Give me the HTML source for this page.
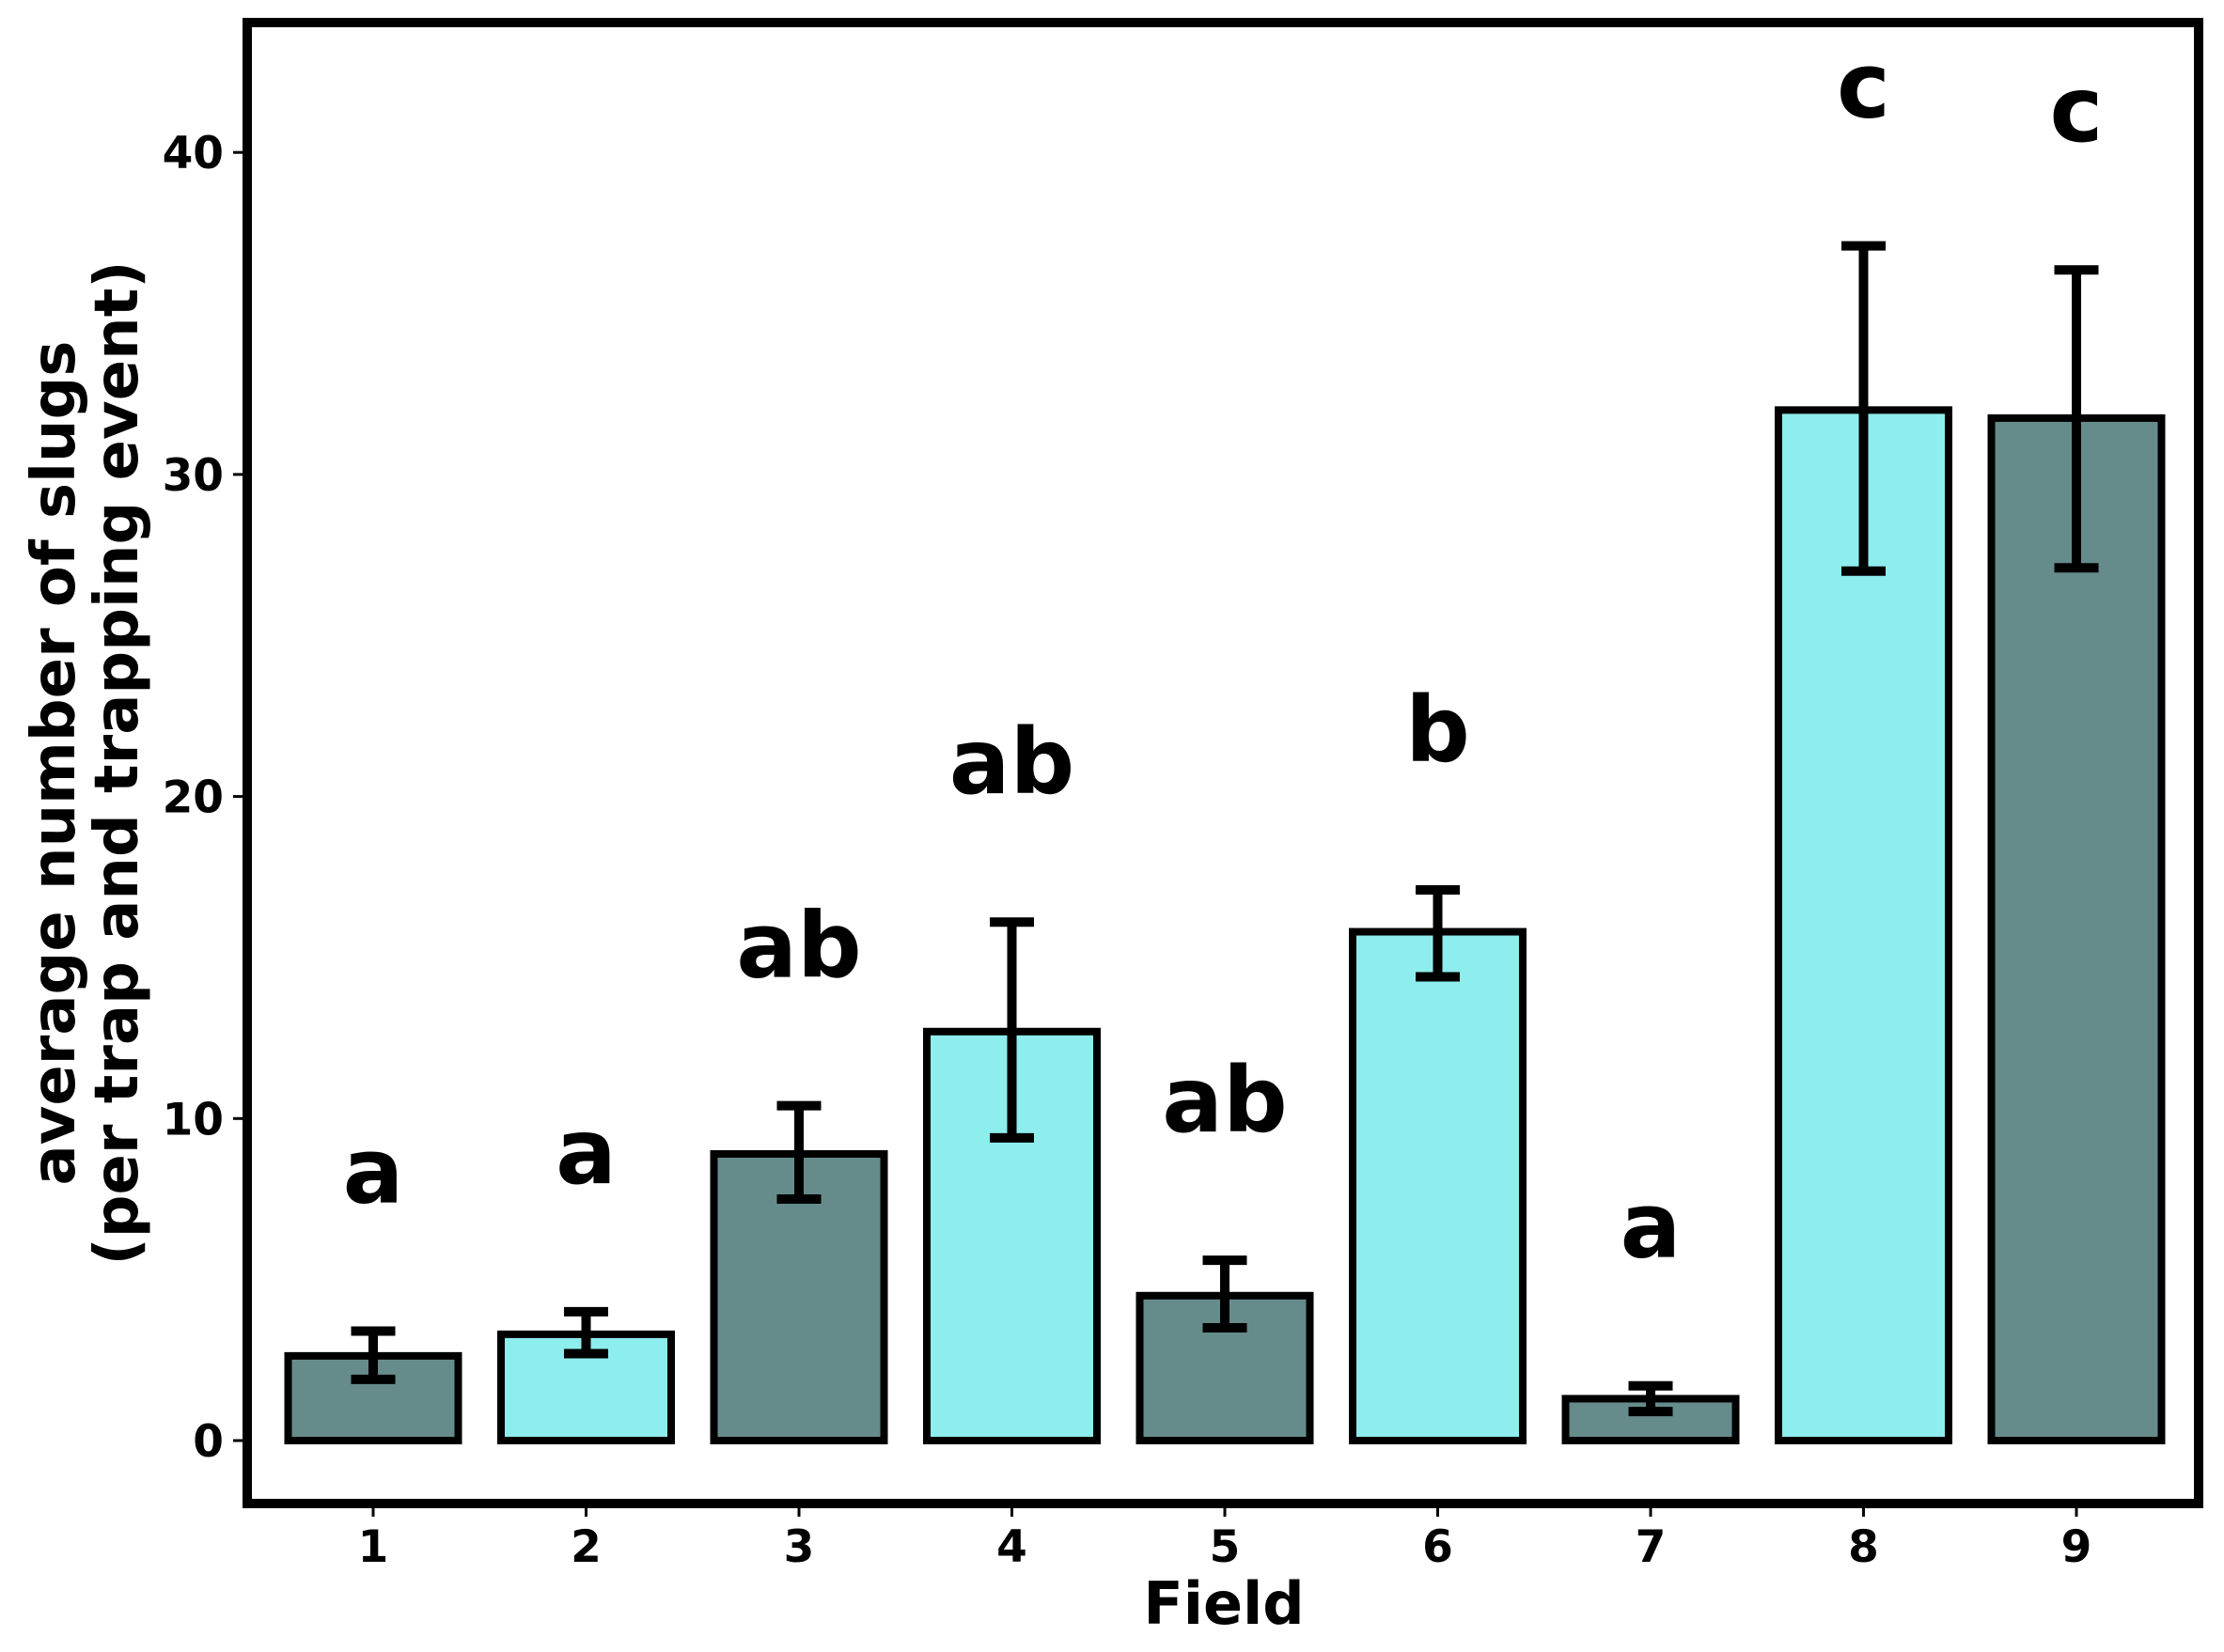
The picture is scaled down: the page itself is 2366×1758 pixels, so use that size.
<!DOCTYPE html>
<html><head><meta charset="utf-8"><style>
html,body{margin:0;padding:0;background:#fff;}
svg{display:block;font-family:"DejaVu Sans","Liberation Sans",sans-serif;font-weight:bold;}
</style></head><body>
<svg id="chart" width="2366" height="1758" viewBox="0 0 2366 1758" xmlns="http://www.w3.org/2000/svg">
<rect x="0" y="0" width="2366" height="1758" fill="#fff"/>
<g id="bars"></g>
<g id="errs"></g>
<g id="letters"></g>
<g id="yticks"></g>
<g id="xticks"></g>
<rect x="263" y="24" width="2076" height="1576" fill="none" stroke="#000" stroke-width="10"/>
<text x="1302" y="1728" font-size="62" text-anchor="middle">Field</text>
<g transform="translate(0,812) rotate(-90)">
<text x="0" y="79" font-size="64" text-anchor="middle">average number of slugs</text>
<text x="0" y="146" font-size="64" text-anchor="middle">(per trap and trapping event)</text>
</g>
</svg>
<script>
const categories = ["1","2","3","4","5","6","7","8","9"];
const means = [2.63, 3.3, 8.9, 12.7, 4.5, 15.8, 1.3, 32.0, 31.75];
const errLow = [1.9, 2.7, 7.5, 9.4, 3.5, 14.4, 0.9, 27.0, 27.1];
const errHigh = [3.4, 4.0, 10.4, 16.1, 5.6, 17.1, 1.7, 37.1, 36.35];
const groupLetters = ["a","a","ab","ab","ab","b","a","c","c"];
const yTicks = [0, 10, 20, 30, 40];
const colors = ["#668b8b", "#8eeded"];

const NS = "http://www.w3.org/2000/svg";
function yS(v){ return 1533 - v * 34.27; }
function xS(i){ return 397 + i * 226.5; }
const BW = 181;
function mk(tag, attrs, parent){
  const e = document.createElementNS(NS, tag);
  for (const k in attrs) e.setAttribute(k, attrs[k]);
  parent.appendChild(e);
  return e;
}
const gB = document.getElementById('bars'), gE = document.getElementById('errs'),
      gL = document.getElementById('letters'), gY = document.getElementById('yticks'),
      gX = document.getElementById('xticks');

categories.forEach((c, i) => {
  const x = xS(i), top = yS(means[i]), base = yS(0);
  const r = mk('rect', {x: x - BW/2, y: top, width: BW, height: base - top, fill: colors[i % 2], stroke: '#000', 'stroke-width': 8}, gB);
  
  

  const g = mk('g', {}, gE);
  
  
  mk('line', {x1: x, x2: x, y1: yS(errLow[i]), y2: yS(errHigh[i]), stroke: '#000', 'stroke-width': 10}, g);
  mk('line', {x1: x - 23.5, x2: x + 23.5, y1: yS(errLow[i]), y2: yS(errLow[i]), stroke: '#000', 'stroke-width': 10}, g);
  mk('line', {x1: x - 23.5, x2: x + 23.5, y1: yS(errHigh[i]), y2: yS(errHigh[i]), stroke: '#000', 'stroke-width': 10}, g);

  const t = mk('text', {x: x, y: yS(errHigh[i] + 4), 'font-size': 96, 'text-anchor': 'middle'}, gL);
  t.textContent = groupLetters[i];
  
  

  const tk = mk('line', {x1: x, x2: x, y1: 1605, y2: 1614, stroke: '#000', 'stroke-width': 3}, gX);
  
  
  const tl = mk('text', {x: x, y: 1662, 'font-size': 47, 'text-anchor': 'middle'}, gX);
  tl.textContent = c;
  
  
});

yTicks.forEach(v => {
  const y = yS(v);
  const tk = mk('line', {x1: 248, x2: 258, y1: y, y2: y, stroke: '#000', 'stroke-width': 3}, gY);
  
  
  const tl = mk('text', {x: 238, y: y + 17, 'font-size': 47, 'text-anchor': 'end'}, gY);
  tl.textContent = v;
  
  
});
</script>
</body></html>
